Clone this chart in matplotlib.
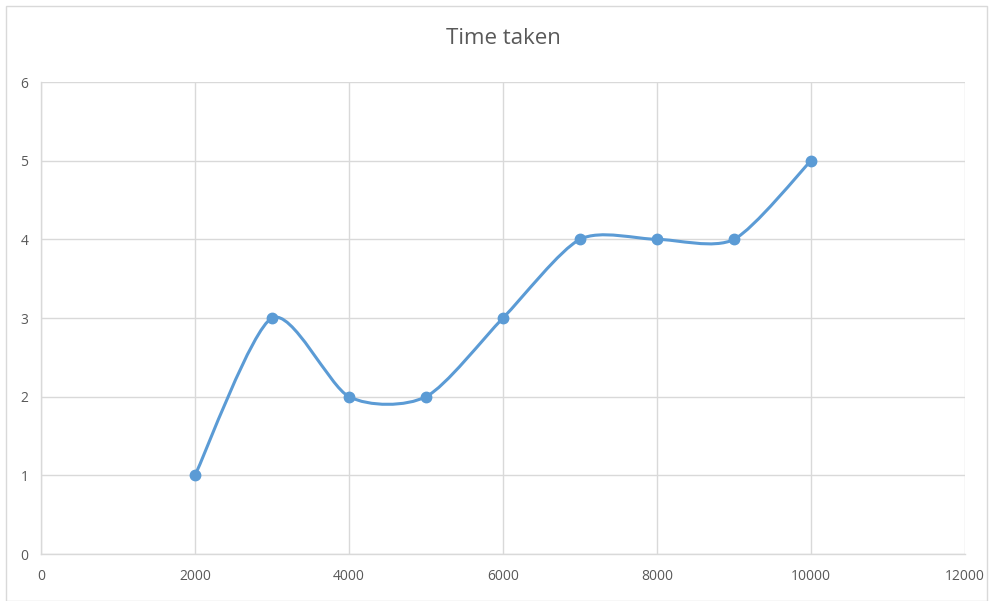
import matplotlib
matplotlib.use("Agg")
import matplotlib.pyplot as plt
from matplotlib.path import Path
from matplotlib.patches import PathPatch, Rectangle
import numpy as np

# Workload size vs. time taken
sizes = [2000, 3000, 4000, 5000, 6000, 7000, 8000, 9000, 10000]
times = [1, 3, 2, 2, 3, 4, 4, 4, 5]

x_ticks = [0, 2000, 4000, 6000, 8000, 10000, 12000]
y_ticks = [0, 1, 2, 3, 4, 5, 6]

line_color = "#5b9bd5"
grid_color = "#d9d9d9"
text_color = "#595959"

plt.rcParams["font.family"] = ["Open Sans", "DejaVu Sans"]

fig = plt.figure(figsize=(9.9, 6.01), dpi=100)
ax = fig.add_axes([41 / 990, 47 / 601, 924 / 990, 472 / 601])

# Smoothed curve: cubic Bezier segments through the points,
# tangents taken from the neighbouring points
tension = 0.13
pts = np.column_stack([sizes, times]).astype(float)
ext = np.vstack([pts[0], pts, pts[-1]])
verts = [tuple(pts[0])]
codes = [Path.MOVETO]
for i in range(1, len(ext) - 2):
    p0, p1, p2, p3 = ext[i - 1], ext[i], ext[i + 1], ext[i + 2]
    c1 = p1 + (p2 - p0) * tension
    c2 = p2 - (p3 - p1) * tension
    verts += [tuple(c1), tuple(c2), tuple(p2)]
    codes += [Path.CURVE4] * 3
ax.add_patch(PathPatch(Path(verts, codes), facecolor="none", edgecolor=line_color,
                       lw=2.2, capstyle="round", joinstyle="round", zorder=3))
ax.plot(sizes, times, linestyle="none", marker="o", markersize=7.5,
        color=line_color, zorder=4)

ax.set_xlim(0, 12000)
ax.set_ylim(0, 6)
ax.set_xticks(x_ticks)
ax.set_yticks(y_ticks)
ax.set_xticklabels([str(v) for v in x_ticks])
ax.set_yticklabels([str(v) for v in y_ticks])
ax.tick_params(length=0, labelsize=10, colors=text_color)
ax.tick_params(axis="x", pad=11)
ax.tick_params(axis="y", pad=9)
ax.grid(True, color=grid_color, lw=1.0)
ax.set_axisbelow(True)
for side in ["top", "right"]:
    ax.spines[side].set_visible(False)
for side in ["left", "bottom"]:
    ax.spines[side].set_color(grid_color)
    ax.spines[side].set_linewidth(1.0)

fig.text(503 / 990, 1 - 39 / 601, "Time taken", ha="center", va="center",
         fontsize=16, color=text_color)

# Light chart-area border
fig.add_artist(Rectangle((6 / 990, 0), 981 / 990, 1 - 6 / 601, transform=fig.transFigure,
                         facecolor="none", edgecolor="#d9d9d9", lw=1.0))

fig.savefig("out.png", dpi=100)
